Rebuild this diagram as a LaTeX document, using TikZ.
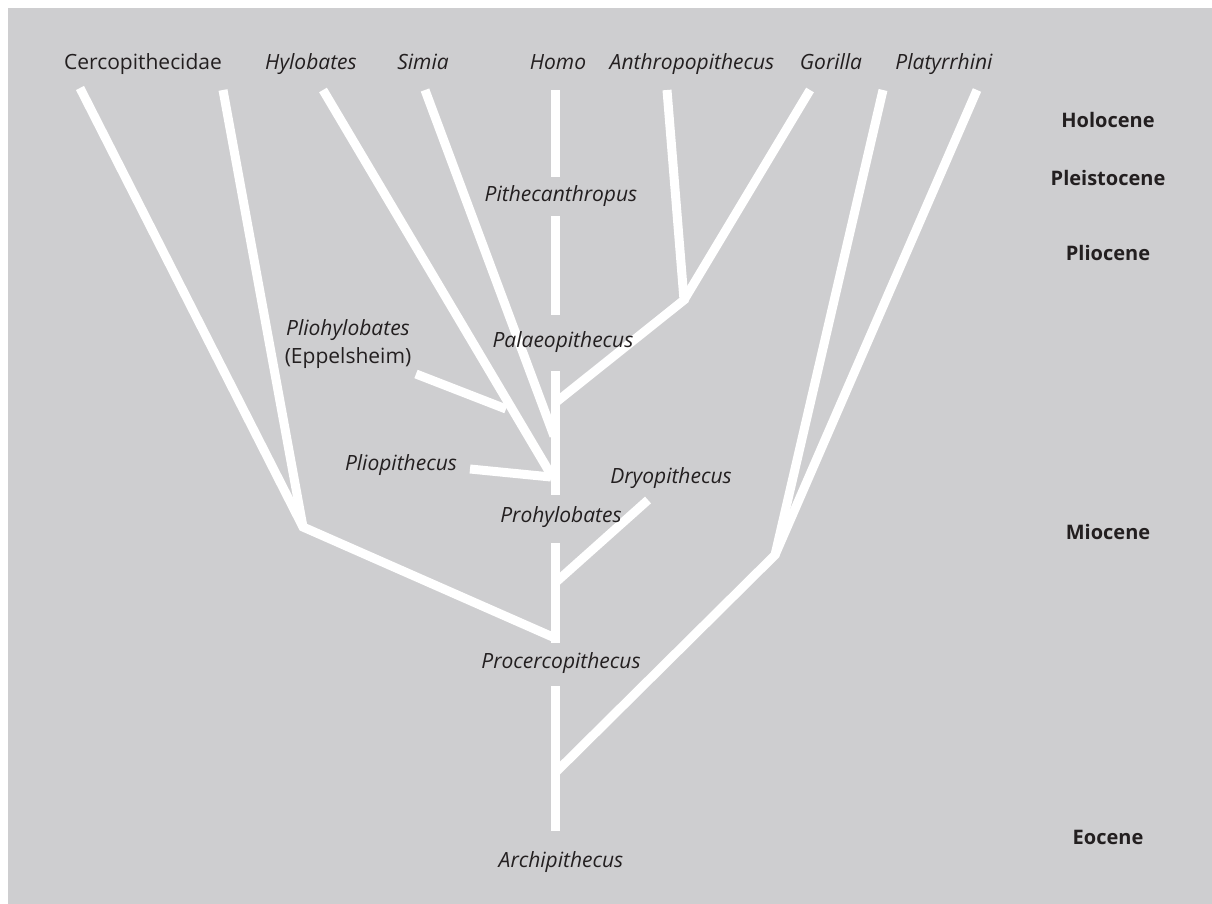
\documentclass[tikz,border=0pt]{standalone}
\usepackage{fontspec}
\setmainfont{Open Sans}
\definecolor{bggray}{RGB}{206,206,208}
\definecolor{ink}{RGB}{35,31,32}
\begin{document}
\begin{tikzpicture}[x=1pt, y=-1pt,
        branch/.style={white, line width=9pt},
        taxon/.style={text=ink, inner sep=0pt, text height=15pt, text depth=5pt,
            font=\fontsize{21}{26}\selectfont\itshape},
        family/.style={text=ink, inner sep=0pt, text height=15pt, text depth=5pt,
            font=\fontsize{21}{26}\selectfont},
        epoch/.style={text=ink, inner sep=0pt, text height=15pt, text depth=0pt,
            font=\fontsize{20}{24}\selectfont\bfseries}]
        \useasboundingbox (0,0) rectangle (1212,904);
        \fill[bggray] (8,8) rectangle (1212,904);

        % tips
        \coordinate (cerco-l) at (80,88);
        \coordinate (cerco-r) at (223,90);
        \coordinate (hylo-t) at (323,90);
        \coordinate (simia-t) at (425,90);
        \coordinate (homo-t) at (555,90);
        \coordinate (anthro-t) at (667,90);
        \coordinate (gorilla-t) at (810,90);
        \coordinate (platy-l) at (883,90);
        \coordinate (platy-r) at (977,90);
        \coordinate (plioh-s) at (416,374);
        \coordinate (pliop-s) at (470,469);
        \coordinate (dryo-s) at (648,500);

        % forks
        \coordinate (cerco-j) at (303,527);
        \coordinate (anthro-j) at (684,300);
        \coordinate (platy-j) at (775,555);
        \coordinate (plioh-j) at (506,409);

        % stem
        \coordinate (pith-n) at (555,177);
        \coordinate (pith-s) at (555,216);
        \coordinate (palaeo-n) at (555,315);
        \coordinate (palaeo-s) at (555,371);
        \coordinate (prohylo-n) at (555,495);
        \coordinate (prohylo-s) at (555,543);
        \coordinate (procerco-n) at (555,643);
        \coordinate (procerco-s) at (555,686);
        \coordinate (archi-n) at (555,831);
        \coordinate (palaeo-e) at (555,403);
        \coordinate (simia-e) at (554,436);
        \coordinate (hylo-e) at (553,478);
        \coordinate (pliop-e) at (551,477);
        \coordinate (dryo-e) at (555,583);
        \coordinate (cerco-e) at (555,638);
        \coordinate (platy-e) at (555,773);

        \draw[branch] (homo-t) -- (pith-n);
        \draw[branch] (pith-s) -- (palaeo-n);
        \draw[branch] (palaeo-s) -- (prohylo-n);
        \draw[branch] (prohylo-s) -- (procerco-n);
        \draw[branch] (procerco-s) -- (archi-n);

        \draw[branch] (cerco-l) -- (cerco-j) -- (cerco-e);
        \draw[branch] (cerco-r) -- (cerco-j);
        \draw[branch] (hylo-t) -- (hylo-e);
        \draw[branch] (simia-t) -- (simia-e);
        \draw[branch] (anthro-t) -- (anthro-j) -- (palaeo-e);
        \draw[branch] (gorilla-t) -- (anthro-j);
        \draw[branch] (plioh-s) -- (plioh-j);
        \draw[branch] (pliop-s) -- (pliop-e);
        \draw[branch] (dryo-s) -- (dryo-e);
        \draw[branch] (platy-l) -- (platy-j) -- (platy-e);
        \draw[branch] (platy-r) -- (platy-j);

        \node[family] (cercopithecidae) at (143,65) {Cercopithecidae};
        \node[taxon] (hylobates) at (311,65) {Hylobates};
        \node[taxon] (simia) at (423,65) {Simia};
        \node[taxon] (homo) at (558,65) {Homo};
        \node[taxon] (anthropopithecus) at (692,65) {Anthropopithecus};
        \node[taxon] (gorilla) at (831,65) {Gorilla};
        \node[taxon] (platyrrhini) at (944,65) {Platyrrhini};
        \node[taxon] (pithecanthropus) at (561,196) {Pithecanthropus};
        \node[taxon] (palaeopithecus) at (563,342) {Palaeopithecus};
        \node[taxon] (pliohylobates) at (348,330) {Pliohylobates};
        \node[family] (eppelsheim) at (348,358) {(Eppelsheim)};
        \node[taxon] (pliopithecus) at (401,465) {Pliopithecus};
        \node[taxon] (dryopithecus) at (671,478) {Dryopithecus};
        \node[taxon] (prohylobates) at (561,517) {Prohylobates};
        \node[taxon] (procercopithecus) at (561,663) {Procercopithecus};
        \node[taxon] (archipithecus) at (561,862) {Archipithecus};

        \node[epoch] (holocene) at (1108,120) {Holocene};
        \node[epoch] (pleistocene) at (1108,178) {Pleistocene};
        \node[epoch] (pliocene) at (1108,253) {Pliocene};
        \node[epoch] (miocene) at (1108,532) {Miocene};
        \node[epoch] (eocene) at (1108,837) {Eocene};
    \end{tikzpicture}
\end{document}
